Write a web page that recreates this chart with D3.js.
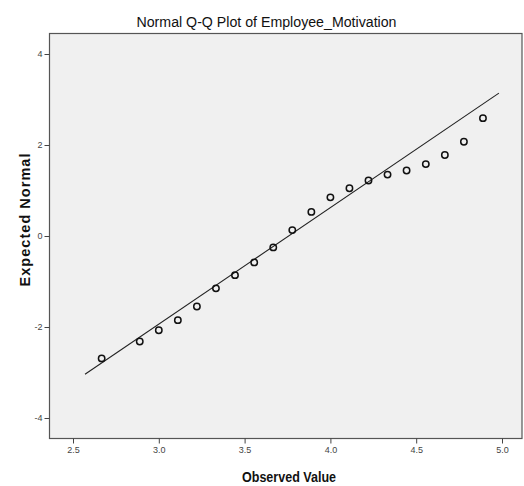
<!DOCTYPE html>
<html><head><meta charset="utf-8">
<script src="https://cdn.jsdelivr.net/npm/d3@7"></script>
<style>body{margin:0;background:#fff;}svg{display:block;font-family:"Liberation Sans",Arial,sans-serif;}</style>
</head><body>
<script>
const title = "Normal Q-Q Plot of Employee_Motivation";
const xLabel = "Observed Value";
const yLabel = "Expected Normal";
const observed = [2.667,2.889,3.0,3.111,3.222,3.333,3.444,3.556,3.667,3.778,3.889,4.0,4.111,4.222,4.333,4.444,4.556,4.667,4.778,4.889];
const expected = [-2.69,-2.32,-2.07,-1.85,-1.55,-1.15,-0.86,-0.58,-0.25,0.13,0.53,0.85,1.05,1.22,1.35,1.44,1.58,1.78,2.07,2.59];
const lineX = [2.57, 4.982];
const lineY = [-3.04, 3.14];
const xTicks = [2.5,3.0,3.5,4.0,4.5,5.0];
const yTicks = [-4,-2,0,2,4];

const W=524,H=486;
const L=49.5,R=522,T=33.5,B=438.5;
const svg=d3.select("body").append("svg").attr("width",W).attr("height",H);
const x=d3.scaleLinear().domain([2.5,5.0]).range([73,502]);
const y=d3.scaleLinear().domain([-4,4]).range([418,54]);

svg.append("rect").attr("x",L).attr("y",T).attr("width",R-L).attr("height",B-T)
  .attr("fill","#f0f0f0").attr("stroke","#555").attr("stroke-width",1.2);

const xa=svg.append("g").attr("transform",`translate(0,${B})`)
  .call(d3.axisBottom(x).tickValues(xTicks).tickFormat(d3.format(".1f")).tickSize(5).tickPadding(3));
xa.select(".domain").remove();
const ya=svg.append("g").attr("transform",`translate(${L},0)`)
  .call(d3.axisLeft(y).tickValues(yTicks).tickFormat(d=>String(d)).tickSize(5).tickPadding(2));
ya.select(".domain").remove();
svg.selectAll(".tick line").attr("stroke","#444");
svg.selectAll(".tick text").attr("fill","#444").style("font-size","9px").style("font-family","'Liberation Sans',Arial,sans-serif");

svg.append("line").attr("x1",x(lineX[0])).attr("y1",y(lineY[0])).attr("x2",x(lineX[1])).attr("y2",y(lineY[1]))
  .attr("stroke","#222").attr("stroke-width",1.1);

svg.append("g").selectAll("circle").data(observed).join("circle")
  .attr("cx",(d)=>x(d)).attr("cy",(d,i)=>y(expected[i])).attr("r",3.2)
  .attr("fill","none").attr("stroke","#111").attr("stroke-width",1.5);

svg.append("text").attr("x",266.5).attr("y",27).attr("text-anchor","middle")
  .attr("textLength",260).attr("lengthAdjust","spacingAndGlyphs")
  .style("font-size","15.5px").attr("fill","#111").text(title);
svg.append("text").attr("x",289).attr("y",482).attr("text-anchor","middle")
  .attr("textLength",94).attr("lengthAdjust","spacingAndGlyphs")
  .style("font-size","15px").style("font-weight","bold").attr("fill","#111").text(xLabel);
svg.append("text").attr("transform","translate(29.5,220) rotate(-90)").attr("text-anchor","middle")
  .attr("textLength",133).attr("lengthAdjust","spacing")
  .style("font-size","14.5px").style("font-weight","bold").attr("fill","#111").text(yLabel);
</script>
</body></html>
